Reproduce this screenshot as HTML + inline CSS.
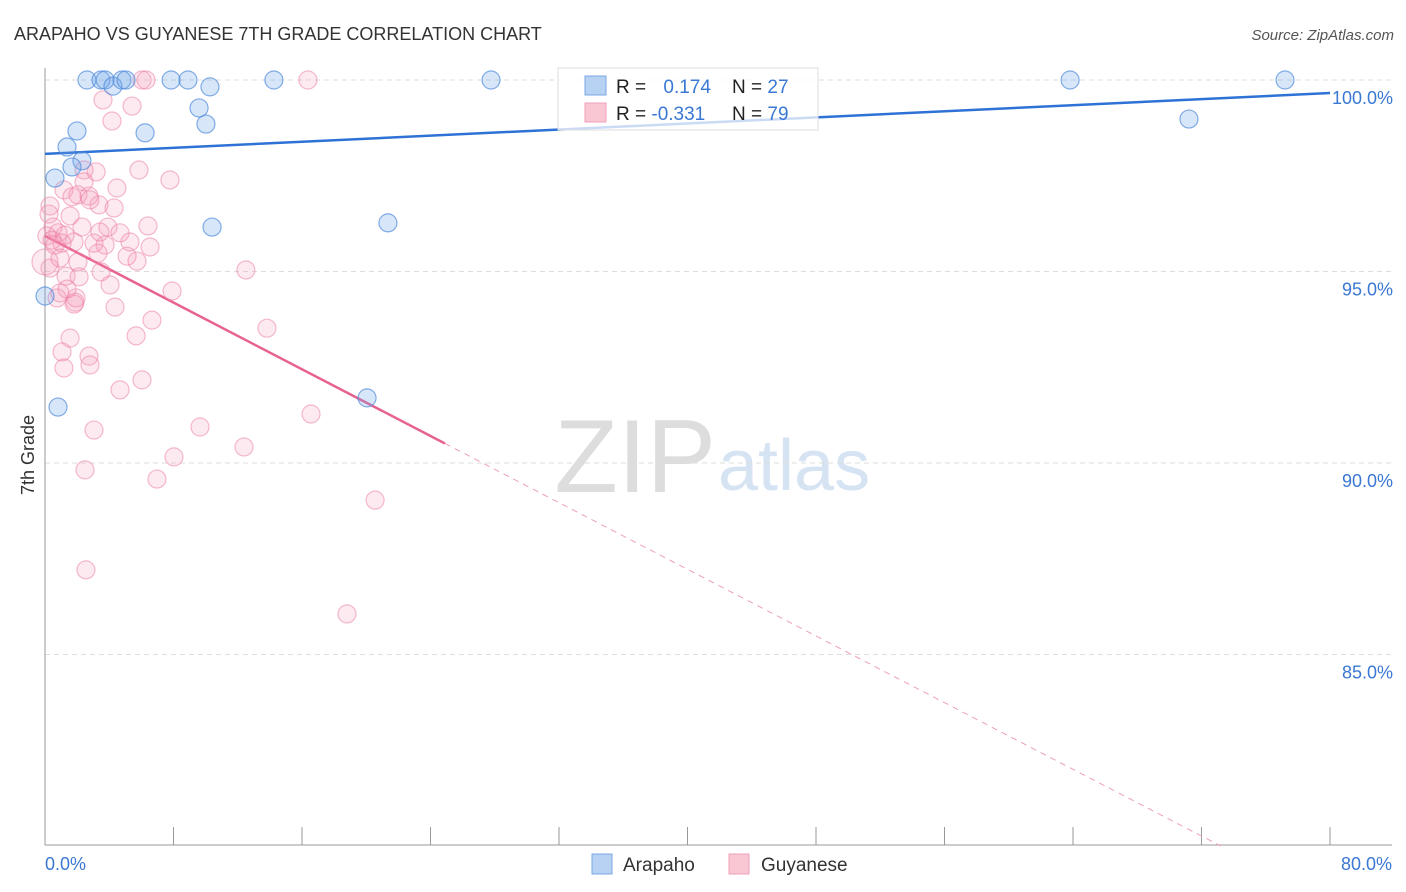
<!DOCTYPE html>
<html><head><meta charset="utf-8">
<style>
body{margin:0;background:#fff;font-family:"Liberation Sans",sans-serif;}
#wrap{position:relative;width:1406px;height:892px;overflow:hidden;}
svg text{font-family:"Liberation Sans",sans-serif;}
</style></head>
<body>
<div id="wrap">
<svg id="chart" width="1406" height="892">
<text x="14" y="40" font-size="18" fill="#333">ARAPAHO VS GUYANESE 7TH GRADE CORRELATION CHART</text>
<text x="1394" y="40" font-size="15" fill="#555" font-style="italic" text-anchor="end">Source: ZipAtlas.com</text>
<text x="34" y="455" font-size="18" fill="#333" transform="rotate(-90 34 455)" text-anchor="middle">7th Grade</text>
<text x="716" y="492" font-size="104" fill="#ddd" font-family="Liberation Serif, serif" text-anchor="end">ZIP</text>
<text x="718" y="490" font-size="72" fill="#d6e3f3">atlas</text>
<g id="grid"></g>
<g id="axes"></g>
<g id="lines"></g>
<g id="pts"></g>
<g>
<rect x="558" y="68" width="260" height="62" fill="rgba(255,255,255,0.75)" stroke="#ddd"/>
<rect x="585" y="76" width="21" height="19" fill="#b8d2f3" stroke="#7aa7e6"/>
<rect x="585" y="103" width="21" height="19" fill="#f9c6d4" stroke="#f0a0b8"/>
<text x="616" y="93" font-size="19" fill="#222">R = <tspan fill="#3a78d4" dx="12">0.174</tspan></text>
<text x="732" y="93" font-size="19" fill="#222">N = <tspan fill="#3a78d4">27</tspan></text>
<text x="616" y="120" font-size="19" fill="#222">R = <tspan fill="#3a78d4">-0.331</tspan></text>
<text x="732" y="120" font-size="19" fill="#222">N = <tspan fill="#3a78d4">79</tspan></text>
</g>
<g>
<rect x="592" y="854" width="20" height="20" fill="#b8d2f3" stroke="#7aa7e6"/>
<text x="623" y="871" font-size="19" fill="#333">Arapaho</text>
<rect x="729" y="854" width="20" height="20" fill="#f9c6d4" stroke="#f0a0b8"/>
<text x="761" y="871" font-size="19" fill="#333">Guyanese</text>
</g>
</svg>
</div>
<script>
const yTicks=[100,95,90,85];
const yTickLabels=["100.0%","95.0%","90.0%","85.0%"];
const xTickVals=[0,8,16,24,32,40,48,56,64,72,80];
const xEndLabels=["0.0%","80.0%"];
const arapahoX=[2.61,3.49,3.74,4.23,4.79,5.04,7.85,8.90,10.27,14.25,27.77,63.82,77.2,9.59,10.02,6.23,1.99,1.37,2.30,1.68,0.62,10.40,21.35,0,0.81,20.05,71.22];
const arapahoY=[100,100,100,99.84,100,100,100,100,99.82,100,100,100,100,99.27,98.85,98.62,98.67,98.25,97.89,97.73,97.44,96.16,96.27,94.36,91.46,91.70,98.98];
const guyX=[6.04,6.29,16.37,3.61,5.42,4.17,5.85,7.78,1.18,4.48,2.05,2.74,3.18,2.43,1.68,0.31,1.56,3.36,4.30,6.41,2.30,0.50,0.81,3.92,4.67,3.05,1.81,1.06,3.74,5.29,6.54,5.73,3.30,5.11,0.31,1.31,2.12,3.49,12.51,4.05,7.91,0.93,1.87,0.75,1.81,4.36,6.66,13.82,5.67,1.56,2.74,1.06,1.18,2.80,6.04,4.67,16.56,9.65,3.05,12.39,8.03,2.49,6.97,20.55,2.55,18.80,0,0.44,0.12,0.62,0.93,0.25,1.25,2.05,3.42,1.93,1.37,2.43,2.80];
const guyY=[100,100,100,99.48,99.32,98.93,97.65,97.39,97.13,97.18,97.00,96.97,97.60,97.65,96.95,96.71,96.45,96.74,96.66,96.19,96.16,96.16,96.01,96.16,96.01,95.74,95.77,95.74,95.69,95.77,95.64,95.27,95.48,95.40,95.09,94.88,94.86,94.99,95.04,94.65,94.49,94.44,94.20,94.31,94.15,94.07,93.73,93.52,93.32,93.26,92.79,92.90,92.48,92.56,92.17,91.91,91.28,90.94,90.86,90.42,90.16,89.82,89.58,89.03,87.21,86.06,95.25,95.82,95.93,95.69,95.35,96.50,95.95,95.25,96.03,94.31,94.54,97.34,96.87];
const arapahoTrend=[[0,98.07],[80,99.66]];
const guyTrend=[[0,95.93],[24.9,90.51],[73.2,80]];
const X=v=>45+v/80*1285, Y=v=>80+(100-v)*38.3;
const NS="http://www.w3.org/2000/svg";
function mk(t,a,p){const e=document.createElementNS(NS,t);for(const k in a)e.setAttribute(k,a[k]);document.getElementById(p).appendChild(e);return e;}
yTicks.forEach((v,i)=>{
 const l=mk('line',{x1:45,x2:1392,y1:Y(v),y2:Y(v),stroke:'#ddd','stroke-dasharray':'5,4'},'grid');
 
 
 const t=mk('text',{x:1393,y:Y(v)+24,'font-size':18,fill:'#3a78d4','text-anchor':'end'},'axes');
 t.textContent=yTickLabels[i];
 
 
});
const ya=mk('line',{x1:45,x2:45,y1:68,y2:845,stroke:'#999'},'axes');


const xa=mk('line',{x1:45,x2:1392,y1:845,y2:845,stroke:'#999'},'axes');


xTickVals.forEach(v=>{
 const t=mk('line',{x1:X(v),x2:X(v),y1:827,y2:845,stroke:'#999'},'axes');
 
 
});
[[0,'start'],[80,'end']].forEach((p,i)=>{
 const t=mk('text',{x:X(p[0])+(i?62:0),y:870,'font-size':18,fill:'#3a78d4','text-anchor':p[1]},'axes');
 t.textContent=xEndLabels[i];
 
 
});
guyX.forEach((v,i)=>{
 const c=mk('circle',{cx:X(v),cy:Y(guyY[i]),r:(i==66?13:9),fill:'rgba(244,150,178,0.2)',stroke:'rgba(236,130,165,0.55)','stroke-width':1.2},'pts');
 
 
});
arapahoX.forEach((v,i)=>{
 const c=mk('circle',{cx:X(v),cy:Y(arapahoY[i]),r:9,fill:'rgba(110,165,235,0.28)',stroke:'rgba(80,140,220,0.7)','stroke-width':1.2},'pts');
 
 
});
const bl=mk('line',{x1:X(arapahoTrend[0][0]),y1:Y(arapahoTrend[0][1]),x2:X(arapahoTrend[1][0]),y2:Y(arapahoTrend[1][1]),stroke:'#2f72d6','stroke-width':2.5},'lines');


const pl=mk('line',{x1:X(guyTrend[0][0]),y1:Y(guyTrend[0][1]),x2:X(guyTrend[1][0]),y2:Y(guyTrend[1][1]),stroke:'#e8628f','stroke-width':2.5},'lines');


const pd=mk('line',{x1:X(guyTrend[1][0]),y1:Y(guyTrend[1][1]),x2:X(guyTrend[2][0]),y2:Y(guyTrend[2][1]),stroke:'#eca0b8','stroke-width':1,'stroke-dasharray':'6,5'},'lines');


</script>
</body></html>
